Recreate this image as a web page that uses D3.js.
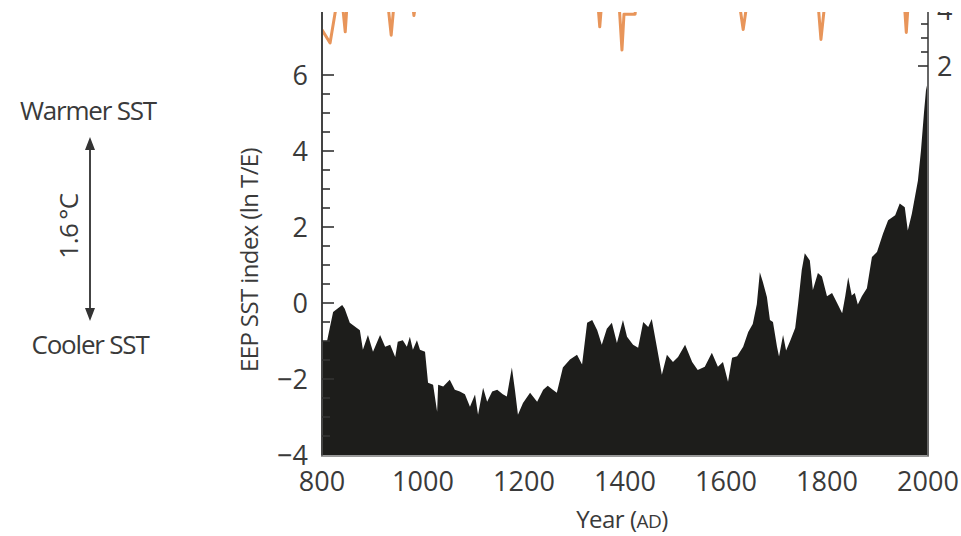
<!DOCTYPE html>
<html><head><meta charset="utf-8">
<script src="https://cdn.jsdelivr.net/npm/d3@7"></script>
<style>
html,body{margin:0;padding:0;background:#fff;}
svg{display:block;font-family:"Open Sans",sans-serif;}
</style></head>
<body><svg id="c" width="961" height="536"></svg>
<script>
// EEP SST index (ln T/E) — black filled series
const sstYears = [800,802,810,822,840,845,855,869,875,881,891,901,915,925,935,945,950,960,968,974,980,988,994,1004,1010,1020,1028,1030,1040,1053,1063,1073,1083,1093,1103,1109,1119,1127,1137,1147,1158,1166,1176,1182,1188,1198,1212,1226,1238,1247,1257,1265,1277,1291,1305,1315,1325,1335,1345,1354,1364,1374,1384,1396,1404,1416,1426,1436,1446,1453,1463,1473,1483,1495,1505,1519,1533,1544,1558,1572,1584,1594,1604,1612,1622,1634,1644,1653,1661,1667,1673,1681,1687,1693,1701,1705,1713,1719,1727,1737,1743,1750,1756,1766,1772,1782,1790,1800,1810,1820,1830,1836,1842,1849,1855,1861,1869,1879,1889,1899,1911,1921,1935,1944,1954,1960,1968,1974,1980,1986,1992,1996,2000];
const sstValues = [-1.0,-1.0,-1.0,-0.24,-0.05,-0.15,-0.52,-0.66,-0.72,-1.23,-0.84,-1.28,-0.84,-1.15,-1.1,-1.42,-1.02,-0.98,-1.15,-0.89,-1.23,-0.98,-1.23,-1.28,-2.1,-2.15,-2.86,-2.15,-2.2,-2.02,-2.28,-2.33,-2.4,-2.73,-2.41,-2.94,-2.23,-2.6,-2.33,-2.28,-2.4,-2.46,-1.7,-2.28,-2.94,-2.63,-2.36,-2.6,-2.28,-2.18,-2.28,-2.36,-1.7,-1.49,-1.36,-1.62,-0.52,-0.45,-0.72,-1.1,-0.68,-0.52,-1.05,-0.45,-0.89,-1.1,-1.18,-0.5,-0.63,-0.42,-1.15,-1.89,-1.36,-1.55,-1.42,-1.1,-1.55,-1.76,-1.68,-1.31,-1.68,-1.55,-2.07,-1.44,-1.4,-1.15,-0.76,-0.55,-0.03,0.81,0.55,0.16,-0.45,-0.5,-1.15,-1.41,-0.84,-1.25,-1.0,-0.66,0.0,0.87,1.31,1.12,0.34,0.79,0.7,0.18,0.26,0.0,-0.27,0.17,0.68,0.2,0.26,-0.04,0.18,0.39,1.21,1.34,1.83,2.18,2.31,2.62,2.52,1.91,2.35,2.78,3.22,4.0,5.0,5.6,5.85];

// Orange series (right axis)
const orgYears  = [800,816,826,830,840,846,850,930,937,943,979,982,986,1346,1350,1354,1388,1394,1398,1420,1422,1626,1634,1642,1782,1788,1796,1953,1957,1961,2000];
const orgValues = [3.29,2.82,3.9,4.3,4.3,3.22,4.3,4.3,3.1,4.3,4.3,3.8,4.3,4.3,3.4,4.3,4.3,2.57,3.85,3.85,4.3,4.3,3.3,4.3,4.3,2.95,4.3,4.3,3.2,4.3,4.3];

const xTicks = [800,1000,1200,1400,1600,1800,2000];
const yTicks = [-4,-2,0,2,4,6];
const yMinor = d3.range(-3.5,6.01,0.5);
const rTicks = [2,4];
const rMinor = [2,2.5,3,3.5];

const svg = d3.select("#c");
const L=322, R=928, T=12, B=455;
const x = d3.scaleLinear().domain([800,2000]).range([L,R]);
const y = d3.scaleLinear().domain([-4,6]).range([B,75]);
const yr = d3.scaleLinear().domain([2,4]).range([66,10]);
const txt = "#3a3a3a";

const defs = svg.append("defs");
defs.append("clipPath").attr("id","plot").append("rect").attr("x",L).attr("y",T).attr("width",R-L).attr("height",B-T);
defs.append("clipPath").attr("id","top").append("rect").attr("x",0).attr("y",T).attr("width",961).attr("height",536);

const sst = sstYears.map((d,i)=>({yr:d,v:sstValues[i]}));
const org = orgYears.map((d,i)=>({yr:d,v:orgValues[i]}));

svg.append("path").datum(sst)
  .attr("clip-path","url(#plot)")
  .attr("fill","#1d1d1b")
  .attr("d", d3.area().x(d=>x(d.yr)).y0(y(-4)).y1(d=>y(d.v)));

svg.append("path").datum(org)
  .attr("clip-path","url(#plot)")
  .attr("fill","none").attr("stroke","#e8955a").attr("stroke-width",3).attr("stroke-linejoin","round")
  .attr("d", d3.line().x(d=>x(d.yr)).y(d=>yr(d.v)));

// frame
svg.append("line").attr("x1",L).attr("x2",L).attr("y1",T).attr("y2",B+1).attr("stroke","#444").attr("stroke-width",2);
svg.append("line").attr("x1",R).attr("x2",R).attr("y1",T).attr("y2",B+1).attr("stroke","#666").attr("stroke-width",2);
svg.append("line").attr("x1",L-1).attr("x2",R+1).attr("y1",B+1).attr("y2",B+1).attr("stroke","#777").attr("stroke-width",1.5);

// left axis
const gl = svg.append("g");
gl.selectAll(".mn").data(yMinor).join("line")
  .attr("x1",L).attr("x2",d=>L+(Number.isInteger(d/2)?12:8))
  .attr("y1",d=>y(d)).attr("y2",d=>y(d)).attr("stroke","#333").attr("stroke-width",1.6);
gl.selectAll("text").data(yTicks).join("text")
  .attr("x",308).attr("y",d=>y(d)).attr("dy","0.36em").attr("text-anchor","end")
  .attr("font-size",27).attr("fill",txt).text(d=>d<0?"\u2212"+Math.abs(d):d);

// bottom labels
svg.append("g").selectAll("text").data(xTicks).join("text")
  .attr("x",d=>x(d)).attr("y",491).attr("text-anchor","middle")
  .attr("font-size",27).attr("fill",txt).text(d=>d);

// right axis
const gr = svg.append("g").attr("clip-path","url(#top)");
gr.selectAll("line").data(rMinor).join("line")
  .attr("x1",R).attr("x2",d=>R-(Number.isInteger(d/2)?10:7))
  .attr("y1",d=>yr(d)).attr("y2",d=>yr(d)).attr("stroke","#333").attr("stroke-width",1.6);
gr.selectAll("text").data(rTicks).join("text")
  .attr("x",937).attr("y",d=>yr(d)).attr("dy","0.36em")
  .attr("font-size",27).attr("fill",txt).text(d=>d);

// axis titles
svg.append("text").attr("transform","translate(258,260) rotate(-90)").attr("text-anchor","middle")
  .attr("font-size",24).attr("fill",txt).attr("letter-spacing",-0.6).text("EEP SST index (ln T/E)");
const xt = svg.append("text").attr("x",622).attr("y",528).attr("text-anchor","middle")
  .attr("font-size",24).attr("fill",txt).attr("letter-spacing",-0.5);
xt.append("tspan").text("Year (");
xt.append("tspan").attr("font-size",19).text("AD");
xt.append("tspan").text(")");

// left annotation
svg.append("text").attr("x",88).attr("y",120).attr("text-anchor","middle").attr("font-size",26)
  .attr("fill",txt).attr("letter-spacing",-1.2).text("Warmer SST");
svg.append("text").attr("x",90).attr("y",354).attr("text-anchor","middle").attr("font-size",26)
  .attr("fill",txt).attr("letter-spacing",-1.2).text("Cooler SST");
svg.append("text").attr("transform","translate(78,226) rotate(-90)").attr("text-anchor","middle")
  .attr("font-size",26).attr("fill",txt).attr("letter-spacing",-0.5).text("1.6\u2009\u00b0C");
svg.append("line").attr("x1",90).attr("x2",90).attr("y1",146).attr("y2",312).attr("stroke","#444").attr("stroke-width",2);
svg.append("path").attr("d","M90,137 L85,150 L95,150 Z M90,321 L85,308 L95,308 Z").attr("fill","#333");
</script></body></html>
